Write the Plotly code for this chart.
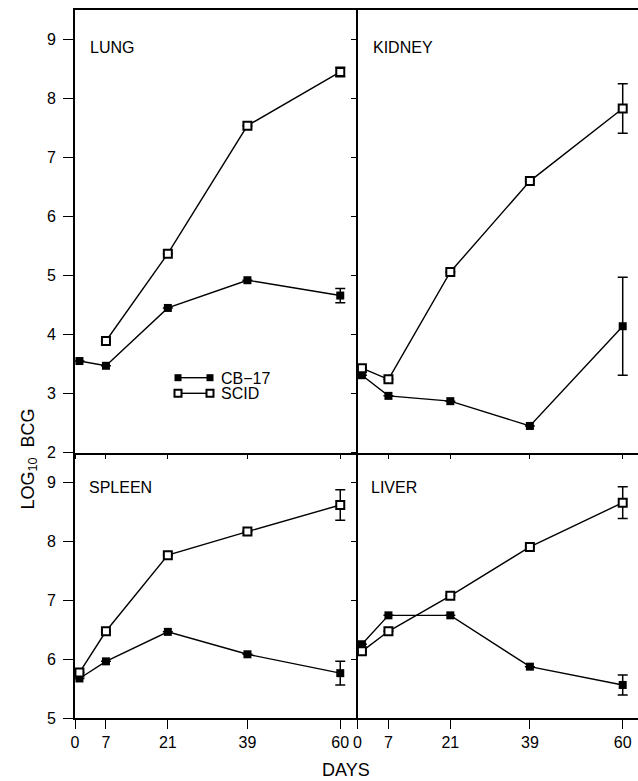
import plotly.graph_objects as go

# ---------------- data ----------------
DAYS = [1, 7, 21, 39, 60]
DAY_TICKS = [0, 7, 21, 39, 60]

LUNG_CB17 = [3.55, 3.47, 4.45, 4.92, 4.66]
LUNG_CB17_ERR = [None, None, None, None, 0.12]
LUNG_SCID = [None, 3.89, 5.37, 7.54, 8.45]
LUNG_SCID_ERR = [None, None, None, None, 0.08]

KIDNEY_CB17 = [3.31, 2.96, 2.87, 2.45, 4.14]
KIDNEY_CB17_ERR = [None, None, None, None, 0.83]
KIDNEY_SCID = [3.43, 3.24, 5.06, 6.60, 7.83]
KIDNEY_SCID_ERR = [None, None, None, None, 0.42]

SPLEEN_CB17 = [5.67, 5.96, 6.46, 6.08, 5.76]
SPLEEN_CB17_ERR = [None, None, None, None, 0.20]
SPLEEN_SCID = [5.77, 6.47, 7.76, 8.16, 8.61]
SPLEEN_SCID_ERR = [None, None, None, None, 0.26]

LIVER_CB17 = [6.25, 6.74, 6.74, 5.87, 5.56]
LIVER_CB17_ERR = [None, None, None, None, 0.17]
LIVER_SCID = [6.13, 6.47, 7.07, 7.90, 8.65]
LIVER_SCID_ERR = [None, None, None, None, 0.27]

PANELS = ["LUNG", "KIDNEY", "SPLEEN", "LIVER"]
SERIES = ["CB\u221217", "SCID"]

# ---------------- geometry helpers ----------------
W, H = 638, 781
ML, MR, MT, MB = 75, 0, 10, 63
PW, PH = W - ML - MR, H - MT - MB


def px(x):
    return (x - ML) / PW


def py(y):
    return (H - MB - y) / PH


SPLIT_X = px(357.5)
SPLIT_Y = 4.5 / 12.0

FONT = "Liberation Sans, Arial, Helvetica, sans-serif"
LW = 1.4

fig = go.Figure()

panel_data = [
    (LUNG_CB17, LUNG_CB17_ERR, LUNG_SCID, LUNG_SCID_ERR, "x", "y"),
    (KIDNEY_CB17, KIDNEY_CB17_ERR, KIDNEY_SCID, KIDNEY_SCID_ERR, "x2", "y2"),
    (SPLEEN_CB17, SPLEEN_CB17_ERR, SPLEEN_SCID, SPLEEN_SCID_ERR, "x3", "y3"),
    (LIVER_CB17, LIVER_CB17_ERR, LIVER_SCID, LIVER_SCID_ERR, "x4", "y4"),
]

for cb, cbe, sc, sce, xa, ya in panel_data:
    fig.add_trace(go.Scatter(
        x=DAYS, y=cb, xaxis=xa, yaxis=ya, mode="lines+markers",
        line=dict(color="black", width=LW),
        marker=dict(symbol="square", size=8, color="black"),
        error_y=dict(type="data", array=cbe, visible=True, color="black",
                     thickness=1.5, width=5),
        showlegend=False, cliponaxis=False,
    ))
    fig.add_trace(go.Scatter(
        x=DAYS, y=sc, xaxis=xa, yaxis=ya, mode="lines+markers",
        line=dict(color="black", width=LW),
        marker=dict(symbol="square", size=8, color="white",
                    line=dict(color="black", width=2)),
        error_y=dict(type="data", array=sce, visible=True, color="black",
                     thickness=1.5, width=5),
        showlegend=False, cliponaxis=False, connectgaps=False,
    ))

axis_common = dict(showgrid=False, zeroline=False, showline=True,
                   linecolor="black", linewidth=1.6, tickcolor="black",
                   tickwidth=1.4, tickfont=dict(family=FONT, size=16, color="black"))

fig.update_layout(
    width=W, height=H,
    margin=dict(l=ML, r=MR, t=MT, b=MB),
    paper_bgcolor="white", plot_bgcolor="white",
    font=dict(family=FONT, size=16, color="black"),
    xaxis=dict(domain=[0, SPLIT_X], range=[0, 63.9], anchor="y",
               tickvals=DAY_TICKS, showticklabels=False, ticks="outside",
               ticklen=5, mirror=True, **axis_common),
    yaxis=dict(domain=[SPLIT_Y, 1], range=[2, 9.5], anchor="x",
               tickvals=[2, 3, 4, 5, 6, 7, 8, 9], ticks="outside", ticklen=10,
               ticklabelstandoff=4, **axis_common),
    xaxis2=dict(domain=[SPLIT_X, 1], range=[0, 63.46], anchor="y2",
                tickvals=DAY_TICKS, showticklabels=False, ticks="outside",
                ticklen=5, mirror=True, **axis_common),
    yaxis2=dict(domain=[SPLIT_Y, 1], range=[2, 9.5], anchor="x2",
                tickvals=[2, 3, 4, 5, 6, 7, 8, 9], showticklabels=False,
                ticks="outside", ticklen=5, **axis_common),
    xaxis3=dict(domain=[0, SPLIT_X], range=[0, 63.9], anchor="y3",
                tickvals=DAY_TICKS, ticks="outside", ticklen=9, **axis_common),
    yaxis3=dict(domain=[0, SPLIT_Y], range=[5, 9.5], anchor="x3",
                tickvals=[5, 6, 7, 8, 9], ticks="outside", ticklen=10,
                ticklabelstandoff=4, **axis_common),
    xaxis4=dict(domain=[SPLIT_X, 1], range=[0, 63.46], anchor="y4",
                tickvals=DAY_TICKS, ticks="outside", ticklen=9, **axis_common),
    yaxis4=dict(domain=[0, SPLIT_Y], range=[5, 9.5], anchor="x4",
                tickvals=[5, 6, 7, 8, 9], showticklabels=False,
                ticks="outside", ticklen=5, **axis_common),
)

# panel labels
label_pos = [(88, 47.7), (370.7, 47.7), (87, 487.7), (369, 487.7)]
for name, (lx, ly) in zip(PANELS, label_pos):
    fig.add_annotation(text=name, x=px(lx), y=py(ly), xref="paper", yref="paper",
                       xanchor="left", yanchor="middle", showarrow=False,
                       font=dict(family=FONT, size=16, color="black"))

# axis titles
fig.add_annotation(text="LOG<sub>10</sub>\u00a0\u00a0BCG", x=px(29), y=py(459.5),
                   xref="paper", yref="paper", textangle=-90, showarrow=False,
                   xanchor="center", yanchor="middle",
                   font=dict(family=FONT, size=18, color="black"))
fig.add_annotation(text="DAYS", x=px(346), y=py(769.5), xref="paper", yref="paper",
                   showarrow=False, xanchor="center", yanchor="middle",
                   font=dict(family=FONT, size=18, color="black"))

# custom legend (marker—line—marker)
leg_rows = [(377.7, True), (393.3, False)]
for (ly, filled), name in zip(leg_rows, SERIES):
    fig.add_shape(type="line", xref="paper", yref="paper",
                  x0=px(178), x1=px(210), y0=py(ly), y1=py(ly),
                  line=dict(color="black", width=LW))
    for cx in (178, 210):
        fig.add_shape(type="rect", xref="paper", yref="paper",
                      x0=px(cx - 3.5), x1=px(cx + 3.5),
                      y0=py(ly + 3.5), y1=py(ly - 3.5),
                      fillcolor="black" if filled else "white",
                      line=dict(color="black", width=0 if filled else 2))
    fig.add_annotation(text=name, x=px(219), y=py(ly), xref="paper", yref="paper",
                       xanchor="left", yanchor="middle", showarrow=False,
                       height=14, valign="middle",
                       font=dict(family=FONT, size=16, color="black"))

fig.write_html(
    "out.html",
    config={"displayModeBar": False},
    post_script="document.body.style.margin='0';document.body.style.overflow='hidden';",
)
